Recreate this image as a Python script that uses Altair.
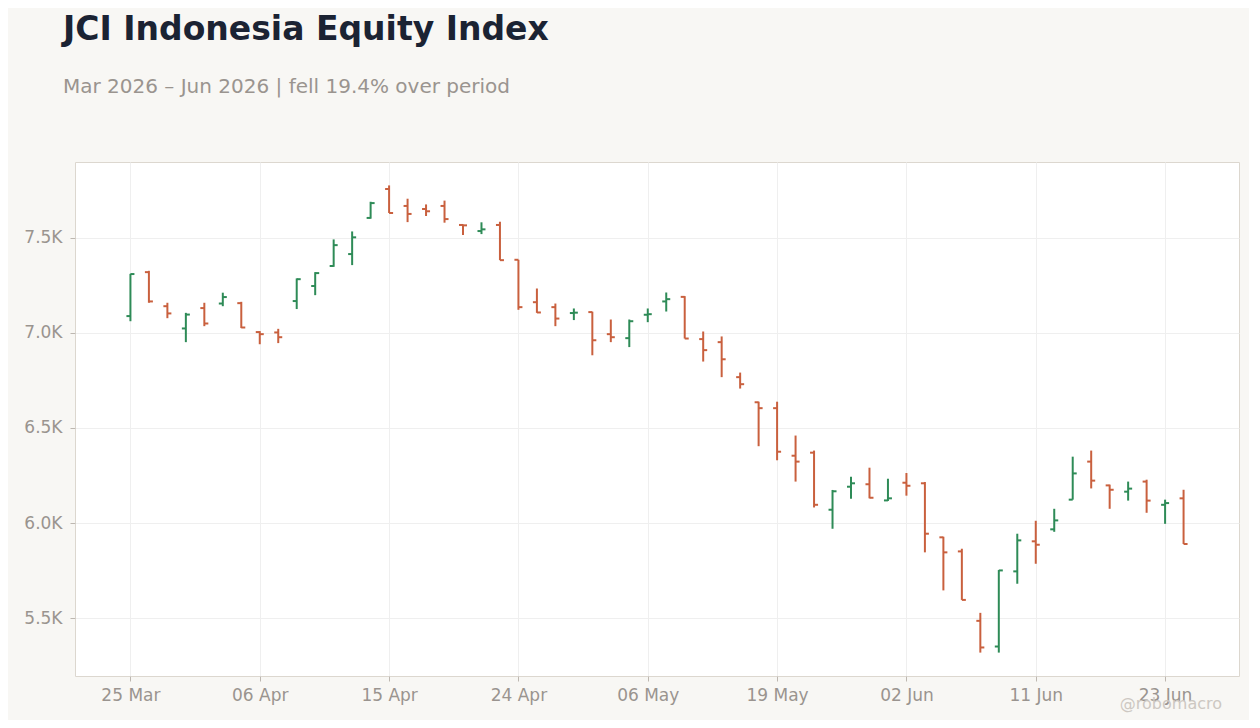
#%%
import altair as alt
import pandas as pd

# trading days shown on the chart (JCI, Mar-Jun 2026)
dates = [
    "25 Mar", "26 Mar", "27 Mar", "30 Mar", "31 Mar", "01 Apr", "02 Apr",
    "06 Apr", "07 Apr", "08 Apr", "09 Apr", "10 Apr", "13 Apr", "14 Apr",
    "15 Apr", "16 Apr", "17 Apr", "20 Apr", "21 Apr", "22 Apr", "23 Apr",
    "24 Apr", "27 Apr", "28 Apr", "29 Apr", "30 Apr", "04 May", "05 May",
    "06 May", "07 May", "08 May", "11 May", "12 May", "13 May", "18 May",
    "19 May", "20 May", "21 May", "22 May", "25 May", "26 May", "28 May",
    "02 Jun", "03 Jun", "04 Jun", "05 Jun", "08 Jun", "09 Jun", "10 Jun",
    "11 Jun", "12 Jun", "15 Jun", "17 Jun", "18 Jun", "19 Jun", "22 Jun",
    "23 Jun", "24 Jun",
]
opens = [
    7088, 7319, 7140, 7023, 7130, 7154, 7156, 7004, 7002, 7167,
    7246, 7351, 7414, 7604, 7756, 7667, 7651, 7667, 7567, 7535,
    7567, 7384, 7161, 7135, 7104, 7109, 6993, 6972, 7095, 7165,
    7189, 6967, 6951, 6767, 6635, 6604, 6354, 6370, 6070, 6191,
    6204, 6119, 6212, 6209, 5925, 5851, 5486, 5351, 5746, 5904,
    5967, 6123, 6323, 6198, 6165, 6218, 6096, 6130,
]
highs = [
    7310, 7326, 7158, 7105, 7158, 7211, 7163, 7009, 7021, 7286,
    7319, 7491, 7533, 7689, 7775, 7705, 7675, 7695, 7570, 7581,
    7584, 7384, 7233, 7154, 7128, 7111, 7070, 7070, 7128, 7212,
    7193, 7007, 6981, 6791, 6638, 6638, 6460, 6381, 6174, 6244,
    6291, 6233, 6263, 6216, 5928, 5865, 5528, 5753, 5944, 6012,
    6075, 6349, 6381, 6202, 6218, 6228, 6123, 6175,
]
lows = [
    7061, 7158, 7077, 6951, 7035, 7140, 7025, 6940, 6946, 7125,
    7198, 7347, 7356, 7600, 7630, 7582, 7614, 7579, 7514, 7519,
    7382, 7121, 7105, 7035, 7067, 6882, 6951, 6925, 7056, 7112,
    6970, 6849, 6767, 6707, 6404, 6330, 6218, 6082, 5970, 6128,
    6130, 6116, 6144, 5846, 5646, 5596, 5319, 5319, 5681, 5786,
    5954, 6123, 6182, 6075, 6118, 6054, 5996, 5890,
]
closes = [
    7309, 7165, 7102, 7096, 7049, 7188, 7028, 6993, 6977, 7282,
    7314, 7461, 7502, 7682, 7630, 7625, 7639, 7598, 7565, 7544,
    7382, 7135, 7107, 7075, 7106, 6961, 6977, 7061, 7098, 7177,
    6970, 6909, 6861, 6730, 6604, 6375, 6323, 6096, 6167, 6209,
    6133, 6130, 6196, 5944, 5846, 5596, 5346, 5751, 5909, 5886,
    6014, 6261, 6223, 6175, 6181, 6118, 6105, 5890,
]
y_ticks = [5500, 6000, 6500, 7000, 7500]

GREEN = "#2e8b57"
RED = "#c9603e"
MUTED = "#9a948f"

df = pd.DataFrame({
    "i": range(len(dates)),
    "date": dates,
    "open": opens,
    "high": highs,
    "low": lows,
    "close": closes,
})
df["dir"] = ["up" if c >= o else "down" for o, c in zip(opens, closes)]

#%%
label_expr = "[" + ",".join(f"'{d}'" for d in dates) + "][datum.value]"

x = alt.X(
    "i:Q",
    scale=alt.Scale(domain=[-3, 60], nice=False, zero=False),
    axis=alt.Axis(values=list(range(0, len(dates), 7)), labelExpr=label_expr, title=None),
)
y_scale = alt.Scale(domain=[5196, 7898], nice=False, zero=False)
color = alt.Color(
    "dir:N",
    scale=alt.Scale(domain=["up", "down"], range=[GREEN, RED]),
    legend=None,
)

base = alt.Chart(df)

high_low = base.mark_rule(strokeWidth=2).encode(
    x=x,
    y=alt.Y(
        "low:Q",
        scale=y_scale,
        axis=alt.Axis(
            values=y_ticks,
            labelExpr="format(datum.value / 1000, '.1f') + 'K'",
            title=None,
        ),
    ),
    y2="high:Q",
    color=color,
)
open_tick = base.mark_tick(
    orient="horizontal", size=4, thickness=2, xOffset=-2, opacity=1
).encode(x="i:Q", y="open:Q", color=color)
close_tick = base.mark_tick(
    orient="horizontal", size=4, thickness=2, xOffset=2, opacity=1
).encode(x="i:Q", y="close:Q", color=color)

watermark = alt.Chart(pd.DataFrame({"t": ["@robomacro"]})).mark_text(
    align="right", baseline="alphabetic", fontSize=16, color="#cdc8c2", font="DejaVu Sans"
).encode(text="t:N", x=alt.value(1147), y=alt.value(547))

chart = (
    alt.layer(high_low, open_tick, close_tick, watermark)
    .properties(
        width=1164,
        height=514,
        autosize=alt.AutoSizeParams(type="none"),
        padding={"left": 67, "top": 154, "right": 10, "bottom": 44},
        title=alt.TitleParams(
            text="JCI Indonesia Equity Index",
            subtitle="Mar 2026 \u2013 Jun 2026 | fell 19.4% over period",
            anchor="start",
            frame="group",
            dx=-12,
            offset=65,
            font="DejaVu Sans",
            fontSize=33,
            fontWeight="bold",
            color="#1b2333",
            subtitleFont="DejaVu Sans",
            subtitleFontSize=20,
            subtitleColor=MUTED,
            subtitlePadding=30,
        ),
    )
    .configure(background="#f8f7f4")
    .configure_view(fill="white", stroke="#dcd7cf", strokeWidth=1)
    .configure_axis(
        labelFont="DejaVu Sans",
        labelFontSize=17,
        labelColor=MUTED,
        gridColor="#efefef",
        gridWidth=1,
        domain=False,
        tickColor="#bdb7b0",
        tickSize=5,
    )
    .configure_axisX(labelPadding=6)
    .configure_axisY(labelPadding=8)
)

chart.save("out.html", embed_options={"renderer": "svg", "actions": False})
